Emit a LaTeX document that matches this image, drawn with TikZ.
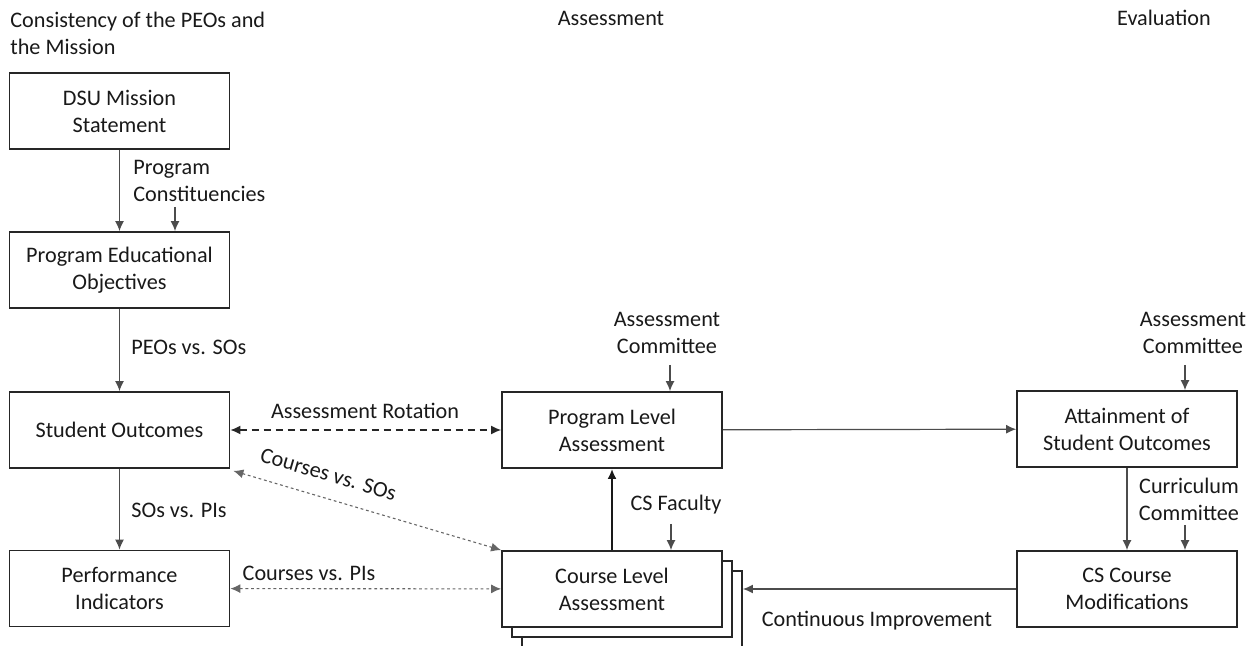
\documentclass[tikz,border=0pt]{standalone}
\usepackage{fontspec}
\setmainfont{Carlito}
\usetikzlibrary{arrows.meta}
\tikzset{
  box/.style={draw=black!85, line width=0.9pt, fill=white, minimum width=110pt,
    minimum height=38pt, align=center, inner sep=2pt},
  lbl/.style={align=left, inner sep=0pt},
  flow/.style={draw=black!70, line width=0.6pt, -{Latex[length=5pt,width=4.5pt]}},
  bold flow/.style={draw=black!90, line width=1pt, -{Latex[length=5pt,width=4.5pt]}},
  rotation/.style={draw=black!85, line width=0.7pt, dash pattern=on 3.5pt off 2.5pt,
    {Latex[length=5pt,width=4.5pt]}-{Latex[length=5pt,width=4.5pt]}},
  mapping/.style={draw=black!60, line width=0.55pt, dash pattern=on 1.4pt off 1.4pt,
    {Latex[length=5pt,width=4.5pt]}-{Latex[length=5pt,width=4.5pt]}}
}
\begin{document}
\begin{tikzpicture}[x=0.5pt,y=-0.5pt, font=\fontsize{11.1}{13.5}\selectfont, text=black!90]
\useasboundingbox (0,0) rectangle (1259,646);

% column headers
\node[lbl, anchor=west] (hCons) at (10,33) {Consistency of the PEOs and\\the Mission};
\node[lbl] (hAss) at (611,18) {Assessment};
\node[lbl] (hEval) at (1164,18) {Evaluation};

% left column
\node[box] (dsu) at (119.5,111) {DSU Mission\\Statement};
\node[box] (peo) at (119.5,270) {Program Educational\\Objectives};
\node[box] (so) at (119.5,430) {Student Outcomes};
\node[box] (pi) at (119.5,588.5) {Performance\\Indicators};

% assessment column (stacked course boxes)
\node[box] (claB) at (632,609) {};
\node[box] (claA) at (622,599) {};
\node[box] (cla) at (612,589) {Course Level\\Assessment};
\node[box] (pla) at (612,430) {Program Level\\Assessment};

% evaluation column
\node[box] (aso) at (1127,429) {Attainment of\\Student Outcomes};
\node[box] (csm) at (1127,589) {CS Course\\Modifications};

% labels
\node[lbl, anchor=west] (lConst) at (133,181) {Program\\Constituencies};
\node[lbl, anchor=west] (lPeoSo) at (131,347) {PEOs vs. SOs};
\node[lbl, anchor=west] (lSoPi) at (131,510) {SOs vs. PIs};
\node[lbl] (lRot) at (365,411) {Assessment Rotation};
\node[lbl] (lCrsPi) at (309,573) {Courses vs. PIs};
\node[lbl, align=center] (lCommA) at (667,333) {Assessment\\Committee};
\node[lbl, align=center] (lCommB) at (1193,333) {Assessment\\Committee};
\node[lbl] (lFac) at (676,505) {CS Faculty};
\node[lbl, align=center] (lCurr) at (1189,499) {Curriculum\\Committee};
\node[lbl] (lImpr) at (877,621) {Continuous Improvement};

% free ends of the input arrows
\coordinate (cConst) at (175,207);
\coordinate (cCommA) at (670,365);
\coordinate (cCommB) at (1185,365);
\coordinate (cFac) at (671,524);
\coordinate (cCurr) at (1185,525);

% connectors
\draw[flow] (dsu) -- (peo);
\draw[flow] (peo) -- (so);
\draw[flow] (so) -- (pi);
\draw[flow] (cConst) -- (cConst |- peo.north);
\draw[flow] (cCommA) -- (cCommA |- pla.north);
\draw[flow] (cCommB) -- (cCommB |- aso.north);
\draw[flow] (cFac) -- (cFac |- cla.north);
\draw[flow] (cCurr) -- (cCurr |- csm.north);
\draw[flow] (pla) -- (aso);
\draw[flow] (aso) -- (csm);
\draw[flow] (csm.west) -- (claB.east |- csm.west);
\draw[bold flow] (cla) -- (pla);
\draw[rotation] (so) -- (pla);
\draw[mapping] (pi) -- (cla);
\draw[mapping] ([shift={(3,2)}]so.south east) -- node[lbl, sloped, pos=0.33, above=8pt] (lCrsSo) {Courses vs. SOs} (cla.north west);
\end{tikzpicture}
\end{document}
